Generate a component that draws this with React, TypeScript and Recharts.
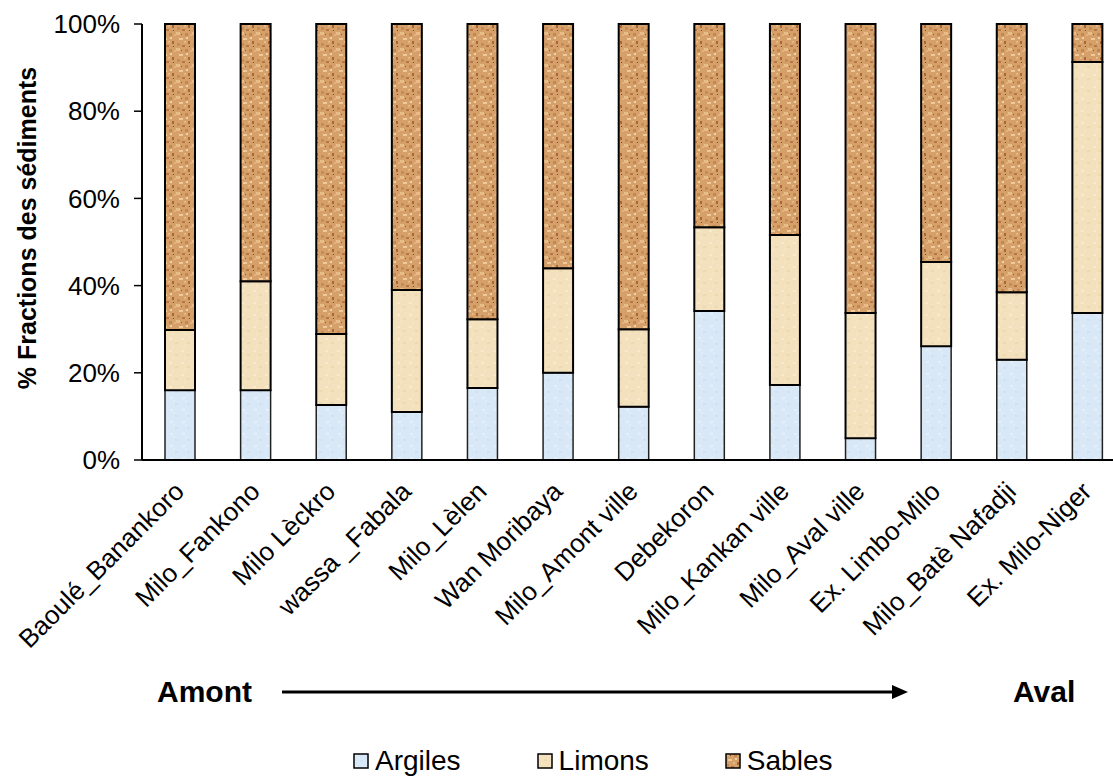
import React from 'react'
import { BarChart, Bar, XAxis, YAxis, Legend } from 'recharts'

const sites = [
  'Baoulé_Banankoro',
  'Milo_Fankono',
  'Milo Lèckro',
  'wassa _Fabala',
  'Milo_Lèlen',
  'Wan Moribaya',
  'Milo_Amont ville',
  'Debekoron',
  'Milo_Kankan ville',
  'Milo_Aval ville',
  'Ex. Limbo-Milo',
  'Milo_Batè Nafadji',
  'Ex. Milo-Niger',
]
const argiles = [16, 16, 12.6, 11, 16.5, 20, 12.2, 34.2, 17.2, 5, 26.1, 23, 33.7]
const limons = [13.8, 25, 16.3, 28, 15.8, 24, 17.8, 19.2, 34.4, 28.7, 19.3, 15.5, 57.6]
const sables = [70.2, 59, 71.1, 61, 67.7, 56, 70, 46.6, 48.4, 66.3, 54.6, 61.5, 8.7]
const yTicks = [0, 20, 40, 60, 80, 100]

const data = sites.map((site, i) => ({
  site,
  argiles: argiles[i],
  limons: limons[i],
  sables: sables[i],
}))

const FONT = '"Liberation Sans", Arial, sans-serif'

const XTick = ({ x, y, payload }: any) => {
  const px = x + 6
  const py = y + 25
  return (
    <text
      x={px}
      y={py}
      transform={`rotate(-45 ${px} ${py})`}
      textAnchor="end"
      fontSize={26}
      fontFamily={FONT}
      fill="#000"
    >
      {payload.value}
    </text>
  )
}

const YLabel = ({ viewBox }: any) => {
  const cx = 27
  const cy = viewBox.y + viewBox.height / 2 - 14
  return (
    <text
      x={cx}
      y={cy}
      transform={`rotate(-90 ${cx} ${cy})`}
      textAnchor="middle"
      dominantBaseline="central"
      fontSize={25}
      fontWeight="bold"
      fontFamily={FONT}
      fill="#000"
    >
      % Fractions des sédiments
    </text>
  )
}

const legendItems = [
  { key: 'argiles', name: 'Argiles' },
  { key: 'limons', name: 'Limons' },
  { key: 'sables', name: 'Sables' },
]

const BottomLegend = () => (
  <div style={{ position: 'relative', height: 116, fontFamily: FONT, color: '#000' }}>
    <div style={{ position: 'absolute', left: 157, top: 14, fontSize: 30, fontWeight: 'bold', lineHeight: '36px' }}>
      Amont
    </div>
    <svg style={{ position: 'absolute', left: 280, top: 22 }} width={632} height={20}>
      <line x1={2} y1={10} x2={616} y2={10} stroke="#000" strokeWidth={3} />
      <polygon points="612,3 628,10 612,17" fill="#000" />
    </svg>
    <div style={{ position: 'absolute', left: 1013, top: 14, fontSize: 30, fontWeight: 'bold', lineHeight: '36px' }}>
      Aval
    </div>
    <div style={{ position: 'absolute', left: 353, top: 84, display: 'flex', alignItems: 'center', gap: 76 }}>
      {legendItems.map((it) => (
        <div key={it.key} style={{ display: 'flex', alignItems: 'center', gap: 6 }}>
          <svg width={16} height={16}>
            <rect x={1} y={1} width={14} height={14} fill={`url(#pat-${it.key})`} stroke="#000" strokeWidth={1.5} />
          </svg>
          <span style={{ fontSize: 28, lineHeight: '34px' }}>{it.name}</span>
        </div>
      ))}
    </div>
  </div>
)

export default function App() {
  return (
    <div style={{ position: 'absolute', left: 0, top: 0, width: 1113, height: 776, overflow: 'hidden', background: '#fff' }}>
      <BarChart
        width={1130}
        height={776}
        data={data}
        margin={{ top: 24, right: 5, left: 0, bottom: 0 }}
        barCategoryGap={0}
      >
        <defs>
          <pattern id="pat-sables" width={16} height={16} patternUnits="userSpaceOnUse">
            <rect width={16} height={16} fill="#d6a06b" />
            <rect x={0} y={0} width={4} height={3} fill="#e8bd8a" />
            <rect x={9} y={1} width={3} height={3} fill="#c2864f" />
            <rect x={3} y={6} width={4} height={2} fill="#efcb9a" />
            <rect x={12} y={9} width={2} height={3} fill="#a8683a" />
            <rect x={1} y={11} width={3} height={3} fill="#c88c57" />
            <rect x={10} y={5} width={2} height={2} fill="#f2d2a4" />
            <rect x={6} y={13} width={3} height={2} fill="#b57743" />
            <rect x={14} y={2} width={2} height={2} fill="#e3b27c" />
            <rect x={5} y={2} width={1} height={1} fill="#8e4f2b" />
            <rect x={8} y={9} width={2} height={2} fill="#e6ba86" />
            <rect x={13} y={14} width={1} height={1} fill="#7d3f22" />
          </pattern>
          <pattern id="pat-limons" width={12} height={12} patternUnits="userSpaceOnUse">
            <rect width={12} height={12} fill="#f3e1bd" />
            <rect x={1} y={2} width={3} height={2} fill="#f7ead0" />
            <rect x={7} y={6} width={3} height={2} fill="#eed8ae" />
            <rect x={4} y={9} width={2} height={2} fill="#f6e6c6" />
          </pattern>
          <pattern id="pat-argiles" width={12} height={12} patternUnits="userSpaceOnUse">
            <rect width={12} height={12} fill="#d9e8f7" />
            <rect x={2} y={1} width={3} height={2} fill="#e6f0fa" />
            <rect x={7} y={7} width={3} height={2} fill="#cfe1f4" />
            <rect x={5} y={4} width={2} height={2} fill="#e1edf9" />
          </pattern>
        </defs>
        <XAxis
          dataKey="site"
          interval={0}
          height={200}
          tick={<XTick />}
          tickLine={false}
          axisLine={{ stroke: '#000', strokeWidth: 2 }}
        />
        <YAxis
          width={142}
          domain={[0, 100]}
          ticks={yTicks}
          tickFormatter={(v) => `${v}%`}
          tickSize={8}
          tickMargin={14}
          tick={{ fontSize: 26, fontFamily: FONT, fill: '#000' }}
          tickLine={{ stroke: '#000', strokeWidth: 1.5 }}
          axisLine={{ stroke: '#000', strokeWidth: 2 }}
          label={<YLabel />}
        />
        <Legend verticalAlign="bottom" content={<BottomLegend />} />
        <Bar dataKey="argiles" name="Argiles" stackId="a" barSize={30} fill="url(#pat-argiles)" stroke="#222" strokeWidth={1.5} isAnimationActive={false} />
        <Bar dataKey="limons" name="Limons" stackId="a" barSize={30} fill="url(#pat-limons)" stroke="#000" strokeWidth={2} isAnimationActive={false} />
        <Bar dataKey="sables" name="Sables" stackId="a" barSize={30} fill="url(#pat-sables)" stroke="#000" strokeWidth={2} isAnimationActive={false} />
      </BarChart>
    </div>
  )
}
